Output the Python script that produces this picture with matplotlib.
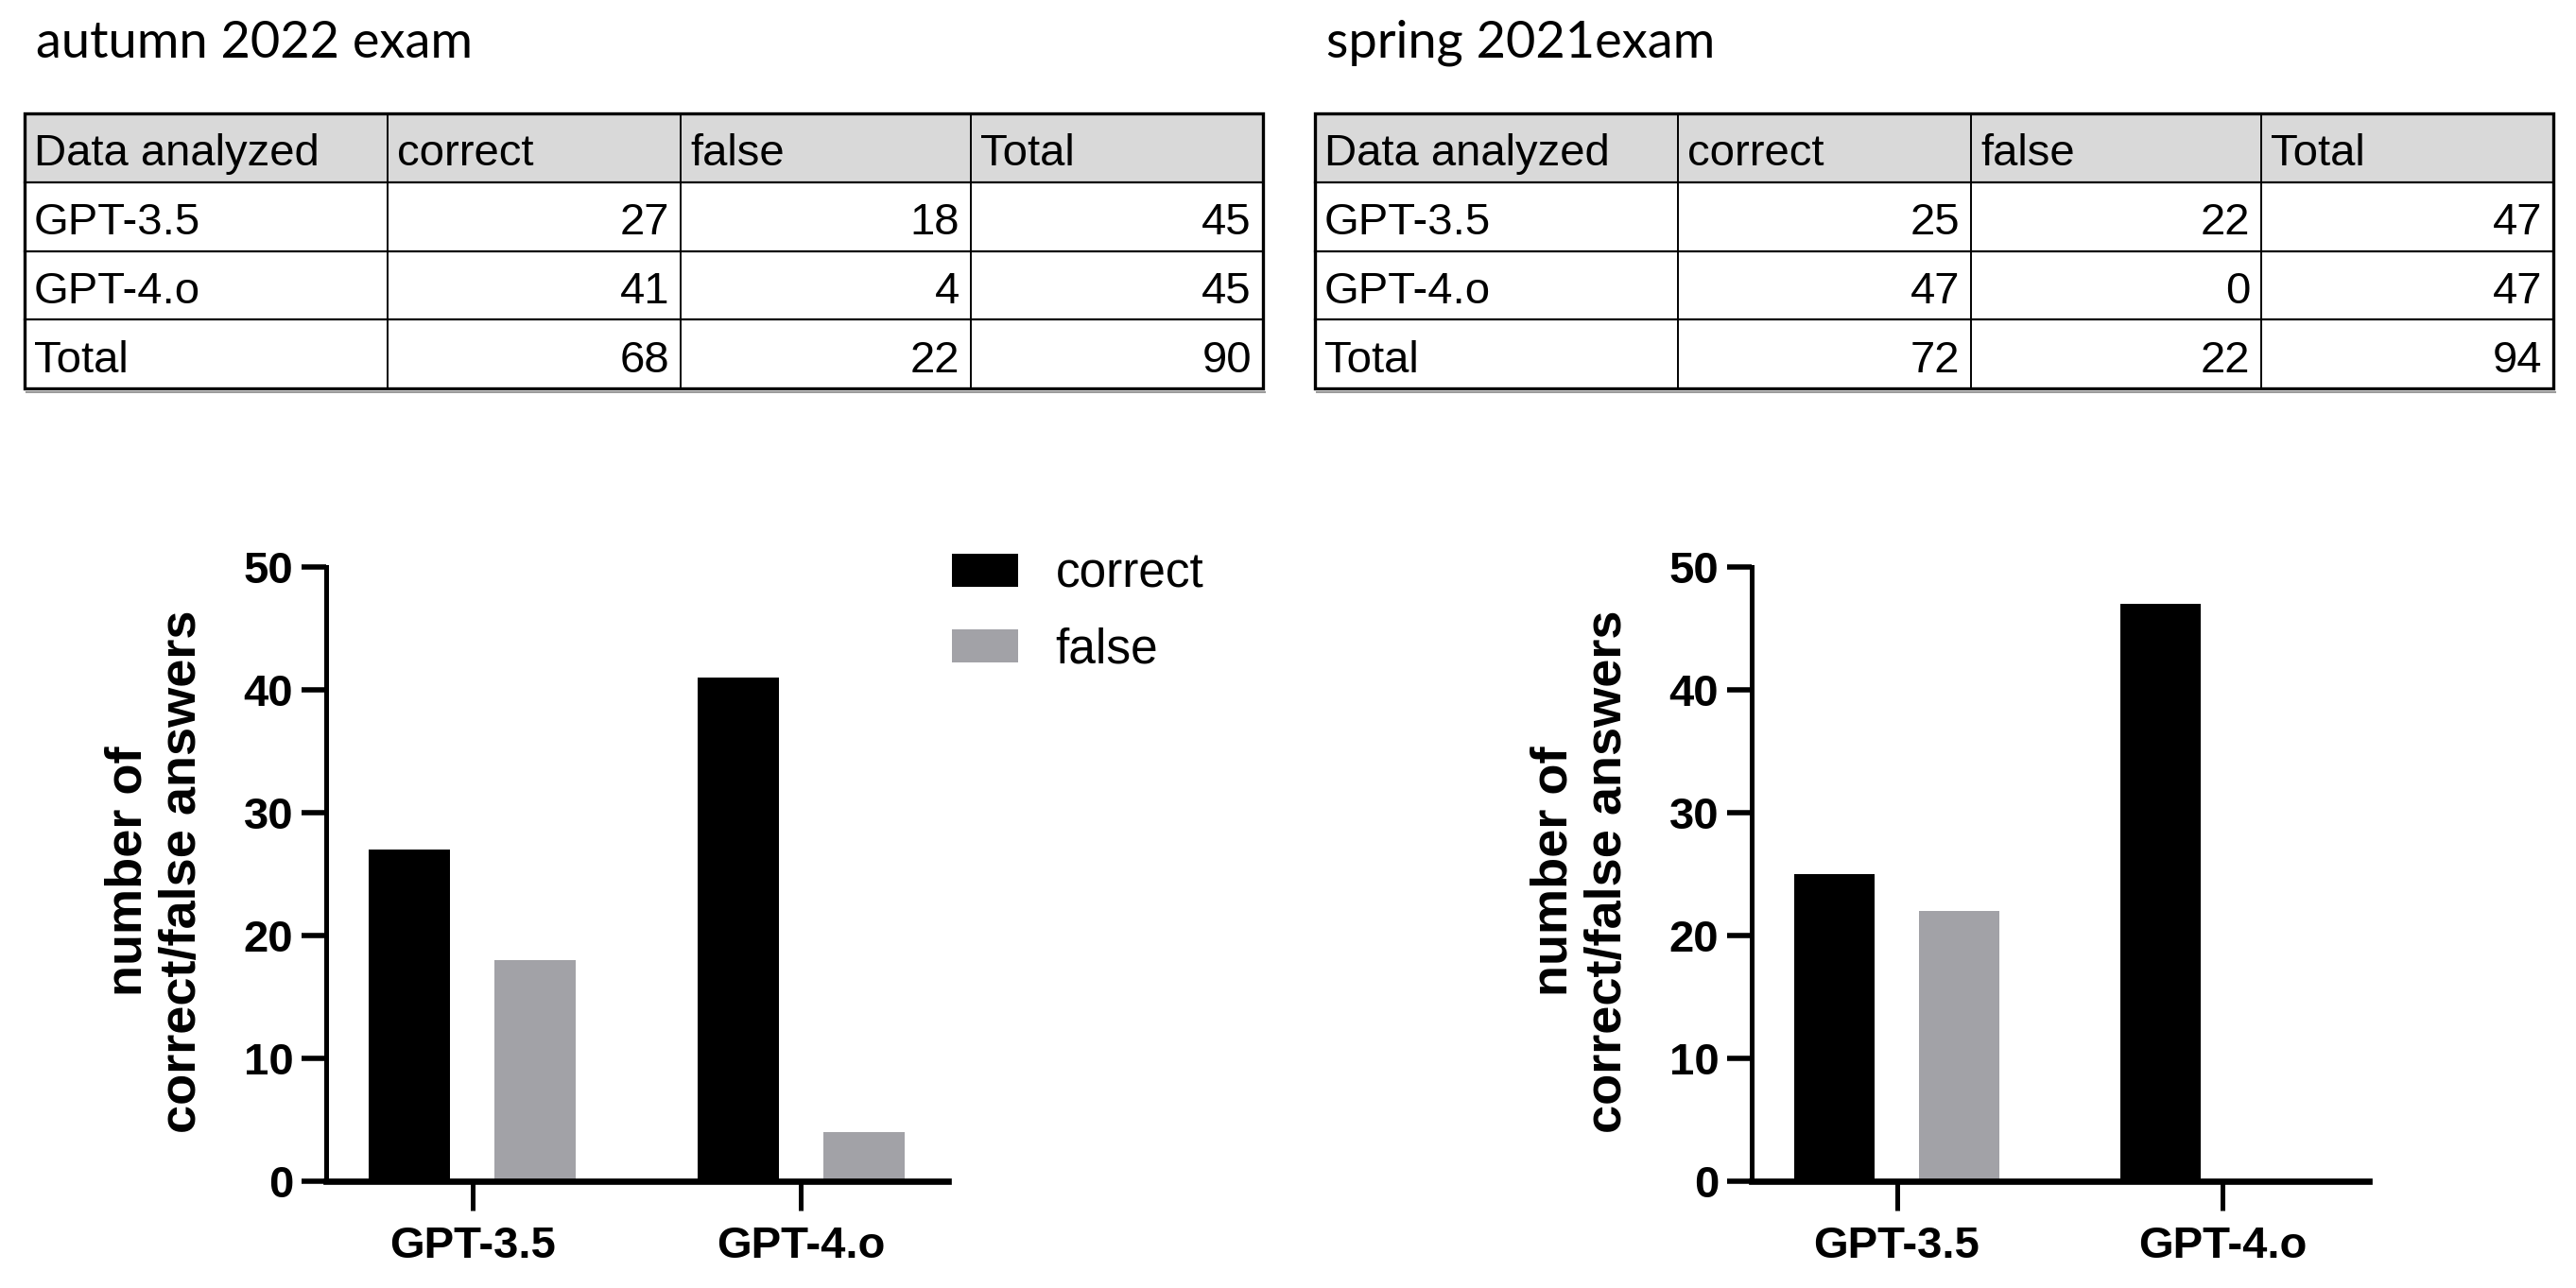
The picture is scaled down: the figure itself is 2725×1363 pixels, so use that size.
import numpy as np
import matplotlib.pyplot as plt
from matplotlib.patches import Rectangle, Patch

# data
categories = ['GPT-3.5', 'GPT-4.o']
autumn_correct = [27, 41]
autumn_false = [18, 4]
spring_correct = [25, 47]
spring_false = [22, 0]
table_header = ['Data analyzed', 'correct', 'false', 'Total']
panel_titles = ['autumn 2022 exam', 'spring 2021exam']
series_names = ['correct', 'false']
y_ticks = [0, 10, 20, 30, 40, 50]
y_label = 'number of\ncorrect/false answers'

W, H = 2725, 1363
BAR_BLACK = '#000000'
BAR_GREY = '#a2a2a7'
ARIAL = ['Liberation Sans', 'DejaVu Sans']


def fig_rect(left, top, right, bottom):
    return [left / W, 1 - bottom / H, (right - left) / W, (bottom - top) / H]


def draw_table(ax, title, correct, false, x0, col_edges):
    rows = [table_header]
    for name, c, f in zip(categories, correct, false):
        rows.append([name, c, f, c + f])
    rows.append(['Total', sum(correct), sum(false), sum(correct) + sum(false)])

    top, bottom = 120, 411
    row_h = (bottom - top) / len(rows)
    xs = [x0 + c for c in col_edges]

    ax.text(x0 + 12, 61, title, fontsize=39, va='baseline', ha='left',
            family=['Lato', 'DejaVu Sans'])

    # header background
    ax.add_patch(Rectangle((xs[0], top), xs[-1] - xs[0], row_h,
                           facecolor='#d9d9d9', edgecolor='none'))
    for i in range(1, len(rows)):
        y = top + i * row_h
        ax.plot([xs[0], xs[-1]], [y, y], color='black', lw=1.6)
    for x in xs[1:-1]:
        ax.plot([x, x], [top, bottom], color='black', lw=1.4)
    ax.add_patch(Rectangle((xs[0], top), xs[-1] - xs[0], bottom - top,
                           facecolor='none', edgecolor='black', lw=2.4))
    ax.plot([xs[0] + 2, xs[-1] + 2], [bottom + 4, bottom + 4], color='#9a9a9a', lw=1.5)

    for i, row in enumerate(rows):
        yb = top + i * row_h + row_h / 2 + 19
        for j, val in enumerate(row):
            if i == 0 or j == 0:
                ax.text(xs[j] + 10, yb, str(val), fontsize=34, ha='left',
                        va='baseline', family=ARIAL)
            else:
                ax.text(xs[j + 1] - 12, yb, str(val), fontsize=34, ha='right',
                        va='baseline', family=ARIAL)


def draw_bars(rect, correct, false):
    ax = fig.add_axes(rect)
    x = np.arange(len(categories))
    width = 0.247
    off = 0.191
    ax.bar(x - off, correct, width, color=BAR_BLACK, label=series_names[0])
    ax.bar(x + off, false, width, color=BAR_GREY, label=series_names[1])
    ax.set_xlim(-0.445, 1.448)
    ax.set_ylim(0, 50)
    ax.set_yticks(y_ticks)
    ax.set_xticks(x)
    ax.set_xticklabels(categories)
    for s in ['top', 'right']:
        ax.spines[s].set_visible(False)
    ax.spines['left'].set_linewidth(3.6)
    ax.spines['bottom'].set_linewidth(4.8)
    ax.tick_params(axis='y', length=19, width=4, pad=6, labelsize=34)
    ax.tick_params(axis='x', length=22, width=3.6, pad=12, labelsize=34)
    for lab in ax.get_xticklabels() + ax.get_yticklabels():
        lab.set_fontweight('bold')
        lab.set_family(ARIAL)
    ax.patch.set_alpha(0)
    return ax


fig = plt.figure(figsize=(W / 100, H / 100), dpi=100)

ax_t = fig.add_axes([0, 0, 1, 1])
ax_t.set_xlim(0, W)
ax_t.set_ylim(H, 0)
ax_t.axis('off')

cols = [0, 384, 694, 1001, 1310]
draw_table(ax_t, panel_titles[0], autumn_correct, autumn_false, 26, cols)
draw_table(ax_t, panel_titles[1], spring_correct, spring_false, 1391, cols)

ax1 = draw_bars(fig_rect(345, 600, 1003, 1250), autumn_correct, autumn_false)
ax2 = draw_bars(fig_rect(1853, 600, 2506, 1250), spring_correct, spring_false)

for cx in [164, 1672]:
    fig.text(cx / W, 1 - 922 / H, y_label, rotation=90, ha='center', va='center',
             fontsize=39, fontweight='bold', family=ARIAL, linespacing=1.2,
             multialignment='center')

handles = [Patch(facecolor=BAR_BLACK), Patch(facecolor=BAR_GREY)]
ax1.legend(handles, series_names, loc='upper left',
           bbox_to_anchor=(1007 / W, 1 - 584 / H), bbox_transform=fig.transFigure,
           frameon=False, borderaxespad=0, borderpad=0, fontsize=37,
           handlelength=1.37, handleheight=0.67, handletextpad=0.76,
           labelspacing=0.59, prop={'family': ARIAL, 'size': 37})

fig.savefig('out.png', dpi=100)
